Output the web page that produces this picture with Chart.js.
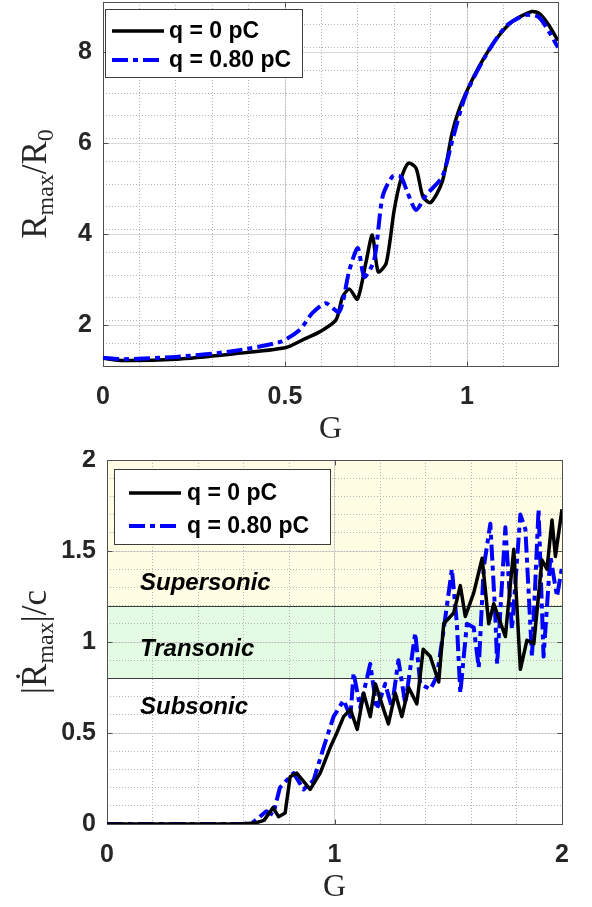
<!DOCTYPE html>
<html>
<head>
<meta charset="utf-8">
<title>Rmax/R0 and |Rdot max|/c against G</title>
<script src="https://cdn.jsdelivr.net/npm/chart.js@4.4.1/dist/chart.umd.min.js"></script>
<style>
  html, body { margin: 0; padding: 0; background: #fff; }
  #wrap { position: relative; width: 592px; height: 907px; }
  canvas { position: absolute; left: 0; }
  #topChart { top: 0; }
  #bottomChart { top: 450px; }
</style>
</head>
<body>
<div id="wrap">
  <canvas id="topChart" width="592" height="450"></canvas>
  <canvas id="bottomChart" width="592" height="457"></canvas>
</div>
<script>
// series labels (both panels)
const seriesLabels = ["q = 0 pC", "q = 0.80 pC"];

// top panel: Rmax/R0 vs G
const gTopQ0  = [0, 0.055, 0.2, 0.35, 0.5, 0.55, 0.595, 0.64, 0.658, 0.677, 0.699, 0.722, 0.74, 0.756, 0.778, 0.8,
                 0.818, 0.839, 0.86, 0.879, 0.9, 0.932, 0.959, 0.978, 1.0, 1.033, 1.078, 1.124, 1.178, 1.2, 1.225, 1.25];
const rTopQ0  = [1.27, 1.22, 1.25, 1.36, 1.5, 1.68, 1.85, 2.11, 2.62, 2.79, 2.57, 3.36, 3.98, 3.17, 3.36, 4.53,
                 5.19, 5.56, 5.45, 4.82, 4.69, 5.15, 6.22, 6.73, 7.15, 7.68, 8.26, 8.67, 8.89, 8.84, 8.59, 8.25];
const gTopQ08 = [0, 0.055, 0.2, 0.35, 0.487, 0.54, 0.575, 0.612, 0.649, 0.677, 0.7, 0.718, 0.745, 0.768,
                 0.795, 0.818, 0.837, 0.86, 0.888, 0.932, 0.96, 0.996, 1.05, 1.106, 1.16, 1.197, 1.225, 1.25];
const rTopQ08 = [1.28, 1.25, 1.3, 1.42, 1.63, 1.89, 2.26, 2.48, 2.29, 3.21, 3.69, 3.06, 3.43, 4.82,
                 5.26, 5.26, 4.9, 4.53, 4.86, 5.26, 6.07, 7.05, 7.9, 8.56, 8.81, 8.77, 8.45, 8.1];
const topXRange = [0, 1.25];
const topYRange = [1.1, 9.1];
const topXTicks = [0, 0.5, 1];
const topYTicks = [2, 4, 6, 8];

// bottom panel: |Rdot max|/c vs G
const gBotQ0  = [0, 0.3, 0.585, 0.65, 0.69, 0.73, 0.754, 0.783, 0.805, 0.834, 0.893, 0.937, 0.981, 1.01, 1.04, 1.07,
                 1.1, 1.128, 1.157, 1.18, 1.208, 1.237, 1.267, 1.296, 1.326, 1.362, 1.39, 1.421, 1.458, 1.48, 1.524,
                 1.553, 1.575, 1.612, 1.649, 1.678, 1.7, 1.751, 1.788, 1.817, 1.846, 1.876, 1.912, 1.934, 1.956, 1.971, 2.0];
const vBotQ0  = [0, 0, 0, 0.005, 0.02, 0.09, 0.04, 0.06, 0.26, 0.28, 0.19, 0.28, 0.42, 0.5, 0.59, 0.63,
                 0.52, 0.72, 0.59, 0.77, 0.66, 0.55, 0.72, 0.59, 0.75, 0.66, 0.96, 0.92, 0.78, 1.1, 1.16,
                 1.31, 1.14, 1.27, 1.46, 1.1, 1.21, 1.03, 1.51, 0.85, 1.01, 0.99, 1.45, 1.4, 1.67, 1.47, 1.73];
const gBotQ08 = [0, 0.3, 0.6, 0.643, 0.7, 0.73, 0.76, 0.82, 0.864, 0.908, 0.952, 0.996, 1.04, 1.07, 1.084, 1.113,
                 1.157, 1.186, 1.223, 1.252, 1.281, 1.311, 1.355, 1.377, 1.421, 1.45, 1.48, 1.516, 1.538, 1.553,
                 1.582, 1.612, 1.634, 1.656, 1.685, 1.707, 1.715, 1.751, 1.78, 1.817, 1.839, 1.868, 1.897, 1.919,
                 1.949, 1.978, 2.0];
const vBotQ08 = [0, 0, 0, 0.01, 0.07, 0.05, 0.2, 0.28, 0.19, 0.24, 0.42, 0.59, 0.68, 0.59, 0.83, 0.64,
                 0.88, 0.63, 0.77, 0.64, 0.9, 0.66, 1.05, 0.77, 0.74, 0.81, 1.07, 1.4, 1.1, 0.72,
                 1.1, 1.08, 0.86, 1.41, 1.65, 1.14, 0.88, 1.63, 1.07, 1.7, 1.62, 0.92, 1.73, 0.92,
                 1.47, 1.25, 1.41];
const botXRange = [0, 2];
const botYRange = [0, 2];
const botXTicks = [0, 1, 2];
const botYTicks = [0, 0.5, 1, 1.5, 2];

// flow regimes (bottom panel)
const bandEdges  = [0, 0.8, 1.2, 2];
const bandNames  = ["Subsonic", "Transonic", "Supersonic"];
const bandLabelV = [0.64, 0.96, 1.32];
const bandLabelG = 0.145;

// axis titles, [text, isSubscript]
const topYTitle = [["R", 0], ["max", 1], ["/", 0], ["R", 0], ["0", 1]];
const botYTitle = [["|", 0], ["\u1E58", 0], ["max", 1], ["|", 0], ["/", 0], ["c", 0]];
const xTitle = "G";

const SANS  = "'Liberation Sans', Arial, Helvetica, sans-serif";
const SERIF = "'Liberation Serif', 'DejaVu Serif', 'Times New Roman', serif";
const INK   = "#262626";

const pts = (xs, ys) => xs.map((x, i) => ({ x, y: ys[i] }));

function seg(ctx, x0, y0, x1, y1) {
    ctx.beginPath();
    ctx.moveTo(x0, y0);
    ctx.lineTo(x1, y1);
    ctx.stroke();
}

const panelDecor = {
    id: "panelDecor",
    beforeDraw(chart, args, opts) {
        const b = opts.bands;
        if (!b) return;
        const { ctx, chartArea: a, scales: { y } } = chart;
        ctx.save();
        b.colors.forEach((c, i) => {
            const y0 = y.getPixelForValue(b.edges[i]);
            const y1 = y.getPixelForValue(b.edges[i + 1]);
            ctx.fillStyle = c;
            ctx.fillRect(a.left, y1, a.right - a.left, y0 - y1);
        });
        ctx.restore();
    },
    beforeDatasetsDraw(chart, args, opts) {
        const { ctx, chartArea: a, scales: { x, y } } = chart;
        ctx.save();
        const b = opts.bands;
        if (b) {
            ctx.strokeStyle = "#3c3c3c";
            ctx.lineWidth = 1;
            b.edges.slice(1, -1).forEach(v => {
                const py = Math.round(y.getPixelForValue(v)) + 0.5;
                seg(ctx, a.left, py, a.right, py);
            });
            ctx.font = "italic bold 24px " + SANS;
            ctx.fillStyle = "#000";
            ctx.textAlign = "left";
            ctx.textBaseline = "middle";
            b.names.forEach((n, i) => {
                ctx.fillText(n, x.getPixelForValue(b.labelG), y.getPixelForValue(b.labelV[i]));
            });
        }
        // axes box + inward ticks
        ctx.strokeStyle = "#505050";
        ctx.lineWidth = 1;
        const L = Math.round(a.left) + 0.5, R = Math.round(a.right) + 0.5;
        const T = Math.round(a.top) + 0.5, B = Math.round(a.bottom) + 0.5;
        ctx.strokeRect(L, T, R - L, B - T);
        const tl = 5;
        x.ticks.forEach(t => {
            const px = Math.round(x.getPixelForValue(t.value)) + 0.5;
            seg(ctx, px, B, px, B - tl);
            seg(ctx, px, T, px, T + tl);
        });
        y.ticks.forEach(t => {
            const py = Math.round(y.getPixelForValue(t.value)) + 0.5;
            seg(ctx, L, py, L + tl, py);
            seg(ctx, R, py, R - tl, py);
        });
        ctx.restore();
    },
    afterDraw(chart, args, opts) {
        const { ctx, chartArea: a } = chart;
        ctx.save();
        // legend
        const lg = opts.legend;
        const lx = a.left + lg.dx, ly = a.top + lg.dy;
        ctx.fillStyle = "#fff";
        ctx.fillRect(lx, ly, lg.w, lg.h);
        ctx.strokeStyle = "#3c3c3c";
        ctx.lineWidth = 1;
        ctx.strokeRect(Math.round(lx) + 0.5, Math.round(ly) + 0.5, lg.w, lg.h);
        ctx.font = "bold 23px " + SANS;
        ctx.textAlign = "left";
        ctx.textBaseline = "middle";
        chart.data.datasets.forEach((ds, i) => {
            const ry = ly + lg.rows[i];
            ctx.strokeStyle = ds.borderColor;
            ctx.lineWidth = ds.borderWidth;
            ctx.setLineDash(ds.borderDash || []);
            seg(ctx, lx + lg.s0, ry, lx + lg.s1, ry);
            ctx.setLineDash([]);
            ctx.fillStyle = "#000";
            ctx.fillText(ds.label, lx + lg.tx, ry + 1);
        });
        // x title
        ctx.fillStyle = INK;
        ctx.font = "32px " + SERIF;
        ctx.textAlign = "center";
        ctx.fillText(xTitle, (a.left + a.right) / 2, a.bottom + 64);
        // y title, rotated
        const parts = opts.yTitle;
        const fontOf = s => (s ? "24px " : "35px ") + SERIF;
        let total = 0;
        parts.forEach(([t, s]) => { ctx.font = fontOf(s); total += ctx.measureText(t).width; });
        ctx.translate(opts.yTitleX, (a.top + a.bottom) / 2);
        ctx.rotate(-Math.PI / 2);
        ctx.textAlign = "left";
        ctx.textBaseline = "alphabetic";
        let cx = -total / 2;
        parts.forEach(([t, s]) => {
            ctx.font = fontOf(s);
            ctx.fillText(t, cx, s ? 7 : 0);
            cx += ctx.measureText(t).width;
        });
        ctx.restore();
    }
};

function makeScales(xr, yr, xTicks, yTicks, xMinor, yMinor, xH, yW) {
    const tickFont = { family: SANS, size: 25, weight: "bold" };
    const majorGrid = { color: "#d9d9d9", lineWidth: 1, drawTicks: false };
    const minorGrid = { color: "#b4b4b4", lineWidth: 1, drawTicks: false, z: -1 };
    const fmt = v => String(v);
    return {
        x: {
            type: "linear", position: "bottom", min: xr[0], max: xr[1],
            grid: majorGrid, border: { display: false },
            ticks: { font: tickFont, color: INK, padding: 16, maxRotation: 0, autoSkip: false, callback: fmt },
            afterBuildTicks: s => { s.ticks = xTicks.map(v => ({ value: v })); },
            afterFit: s => { s.height = xH; s.paddingLeft = 0; s.paddingRight = 0; }
        },
        y: {
            type: "linear", position: "left", min: yr[0], max: yr[1],
            grid: majorGrid, border: { display: false },
            ticks: { font: tickFont, color: INK, padding: 11, autoSkip: false, callback: fmt },
            afterBuildTicks: s => { s.ticks = yTicks.map(v => ({ value: v })); },
            afterFit: s => { s.width = yW; s.paddingTop = 0; s.paddingBottom = 0; }
        },
        xm: {
            type: "linear", position: "bottom", min: xr[0], max: xr[1],
            grid: minorGrid, border: { display: false, dash: [1, 2] },
            ticks: { display: false, stepSize: xMinor },
            afterFit: s => { s.height = 0; s.paddingLeft = 0; s.paddingRight = 0; }
        },
        ym: {
            type: "linear", position: "left", min: yr[0], max: yr[1],
            grid: minorGrid, border: { display: false, dash: [1, 2] },
            ticks: { display: false, stepSize: yMinor },
            afterFit: s => { s.width = 0; s.paddingTop = 0; s.paddingBottom = 0; }
        }
    };
}

function series(label, data, blue, order, tension) {
    return {
        label,
        data,
        borderColor: blue ? "#0000ff" : "#000000",
        borderWidth: blue ? 4 : 3.5,
        borderDash: blue ? [16, 5, 5, 5] : [],
        borderJoinStyle: "round",
        pointRadius: 0,
        fill: false,
        tension,
        order,
        xAxisID: "x",
        yAxisID: "y"
    };
}

document.addEventListener("DOMContentLoaded", () => {
    Chart.defaults.font.family = SANS;

    new Chart(document.getElementById("topChart"), {
        type: "line",
        data: {
            datasets: [
                series(seriesLabels[0], pts(gTopQ0, rTopQ0), false, 1, 0.25),
                series(seriesLabels[1], pts(gTopQ08, rTopQ08), true, 0, 0.25)
            ]
        },
        options: {
            responsive: false,
            animation: false,
            devicePixelRatio: 1,
            layout: { padding: { left: 0, right: 34, top: 2, bottom: 0 } },
            scales: makeScales(topXRange, topYRange, topXTicks, topYTicks, 0.1, 0.5, 84, 103),
            plugins: {
                legend: { display: false },
                tooltip: { enabled: false },
                panelDecor: {
                    legend: { dx: 2, dy: 7, w: 197, h: 68, s0: 7, s1: 59, tx: 64, rows: [22, 51] },
                    yTitle: topYTitle,
                    yTitleX: 46
                }
            }
        },
        plugins: [panelDecor]
    });

    new Chart(document.getElementById("bottomChart"), {
        type: "line",
        data: {
            datasets: [
                series(seriesLabels[0], pts(gBotQ0, vBotQ0), false, 0, 0),
                series(seriesLabels[1], pts(gBotQ08, vBotQ08), true, 1, 0)
            ]
        },
        options: {
            responsive: false,
            animation: false,
            devicePixelRatio: 1,
            layout: { padding: { left: 0, right: 30, top: 10, bottom: 0 } },
            scales: makeScales(botXRange, botYRange, botXTicks, botYTicks, 0.2, 0.1, 83, 107),
            plugins: {
                legend: { display: false },
                tooltip: { enabled: false },
                panelDecor: {
                    bands: {
                        edges: bandEdges,
                        colors: ["#ffffff", "#e2fbe2", "#fffee4"],
                        names: bandNames,
                        labelV: bandLabelV,
                        labelG: bandLabelG
                    },
                    legend: { dx: 7, dy: 9, w: 216, h: 75, s0: 15, s1: 67, tx: 73, rows: [24, 57] },
                    yTitle: botYTitle,
                    yTitleX: 46
                }
            }
        },
        plugins: [panelDecor]
    });
});
</script>
</body>
</html>
